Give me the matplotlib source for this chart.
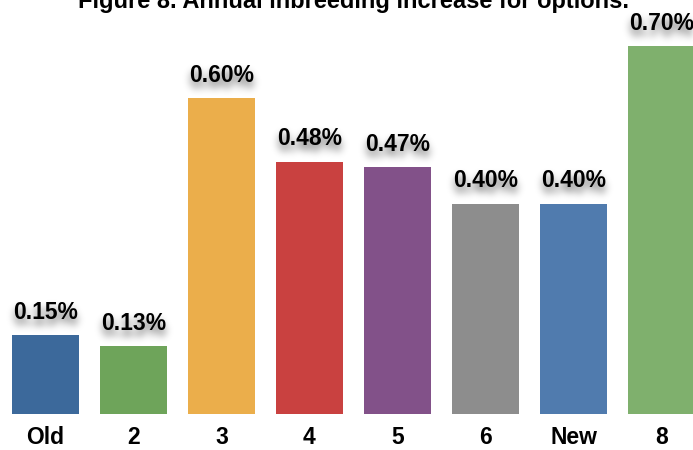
import numpy as np
import matplotlib.pyplot as plt

# data
options = ['Old', '2', '3', '4', '5', '6', 'New', '8']
increase = [0.15, 0.13, 0.60, 0.48, 0.47, 0.40, 0.40, 0.70]
labels = ['0.15%', '0.13%', '0.60%', '0.48%', '0.47%', '0.40%', '0.40%', '0.70%']
colors = ['#3C699B', '#6EA45A', '#EBAE4B', '#C94140', '#825189',
          '#8D8D8D', '#507BAE', '#7FB06D']

plt.rcParams['font.family'] = ['Liberation Sans', 'DejaVu Sans']


def blur1d(a, k, axis):
    return np.apply_along_axis(lambda m: np.convolve(m, k, mode='same'), axis, a)


def shadow_filter(im, dpi):
    # soft blurred drop shadow, shifted a bit down
    pad = 10
    a = np.pad(im[:, :, 3], pad)
    t = np.arange(-8, 9)
    k = np.exp(-t**2 / (2 * 2.8**2))
    k = k / k.sum()
    a = blur1d(blur1d(a, k, 0), k, 1)
    a = np.roll(a, 3, axis=0)
    out = np.zeros(a.shape + (4,))
    out[..., 3] = np.clip(a * 0.75, 0, 1)
    return out, -pad, -pad


fig = plt.figure(figsize=(6.93, 4.5), dpi=100)
ax = fig.add_axes([0, 36 / 450, 1, 414 / 450])

x = np.arange(len(options))
ax.bar(x, increase, width=0.76, color=colors)
ax.set_xlim(-0.517, 7.358)
ax.set_ylim(0, 414 / 526)

for i in range(len(options)):
    for sh in (True, False):
        t = ax.annotate(labels[i], (x[i], increase[i]), xytext=(0, 8),
                        textcoords='offset points', ha='center', va='bottom',
                        fontsize=16.5, fontweight='bold',
                        annotation_clip=False, zorder=5 if sh else 6)
        if sh:
            t.set_agg_filter(shadow_filter)

ax.set_xticks(x)
ax.set_xticklabels(options, fontsize=16.5, fontweight='bold')
ax.tick_params(axis='x', length=0, pad=9)
ax.set_yticks([])
for s in ax.spines.values():
    s.set_visible(False)

fig.text(354 / 693, 1 - 8 / 450, 'Figure 8. Annual inbreeding increase for options.',
         ha='center', va='baseline', fontsize=17, fontweight='bold')

fig.savefig('out.png', dpi=100)
